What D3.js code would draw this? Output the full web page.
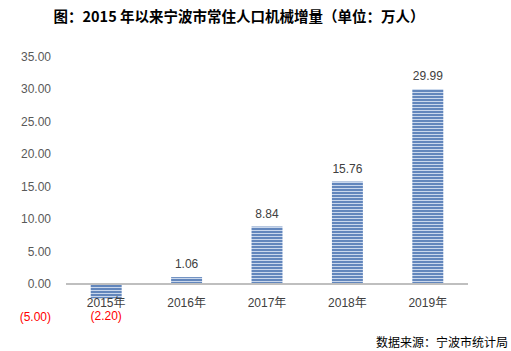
<!DOCTYPE html>
<html>
<head>
<meta charset="utf-8">
<script src="https://cdn.jsdelivr.net/npm/d3@7"></script>
<style>
  body { margin: 0; background: #fff; }
  text { font-family: Arial, "Liberation Sans", "Noto Sans CJK SC", sans-serif; }
</style>
</head>
<body>
<svg id="chart" width="511" height="351"></svg>
<script>
// data
var years = ["2015年", "2016年", "2017年", "2018年", "2019年"]
  , values = [-2.20, 1.06, 8.84, 15.76, 29.99]
  , ticks = [-5, 0, 5, 10, 15, 20, 25, 30, 35];

var svg = d3.select("#chart")
  , x0 = 66, x1 = 468;

var x = d3.scaleBand()
  .domain(years)
  .range([x0, x1])
  .paddingInner(0.615)
  .paddingOuter(0.3075);

var y = d3.scaleLinear()
  .domain([-5, 35])
  .range([316.5, 56.5]);

var fmt = function(v){
  var s = Math.abs(v).toFixed(2);
  return v < 0 ? "(" + s + ")" : s;
};

// striped fill for the bars
var pat = svg.append("defs").append("pattern")
  .attr("id", "stripes")
  .attr("patternUnits", "userSpaceOnUse")
  .attr("width", 4).attr("height", 3);
pat.append("rect").attr("width", 4).attr("height", 3).attr("fill", "#c9d7ec");
pat.append("rect").attr("width", 4).attr("height", 2).attr("fill", "#6286bc");

// title
svg.append("text")
  .attr("x", 239).attr("y", 22)
  .attr("text-anchor", "middle")
  .style("font-family", "'Noto Sans CJK SC', sans-serif")
  .style("font-size", "14.5px").style("font-weight", "bold")
  .attr("fill", "#000")
  .text("图：2015 年以来宁波市常住人口机械增量（单位：万人）");

// y tick labels
svg.selectAll(".ytick")
  .data(ticks)
 .enter().append("text")
  .attr("class", "ytick")
  .attr("x", 51)
  .attr("y", d => y(d))
  .attr("dy", "0.35em")
  .attr("text-anchor", "end")
  .style("font-size", "12px")
  .attr("fill", d => d < 0 ? "#ff0000" : "#595959")
  .text(fmt);

// bars
svg.selectAll(".bar")
  .data(values)
 .enter().append("rect")
  .attr("class", "bar")
  .attr("x", (d, i) => x(years[i]))
  .attr("width", x.bandwidth())
  .attr("y", d => y(Math.max(0, d)))
  .attr("height", d => Math.abs(y(d) - y(0)))
  .attr("fill", "url(#stripes)");

// zero line
svg.append("line")
  .attr("x1", x0).attr("x2", x1)
  .attr("y1", y(0)).attr("y2", y(0))
  .attr("stroke", "#bfbfbf").attr("stroke-width", 2);

// category labels
svg.selectAll(".xlab")
  .data(years)
 .enter().append("text")
  .attr("class", "xlab")
  .attr("x", d => x(d) + x.bandwidth() / 2)
  .attr("y", 307)
  .attr("text-anchor", "middle")
  .style("font-size", "12px")
  .attr("fill", "#404040")
  .text(d => d);

// value labels (negative one nudged just below the category label)
svg.selectAll(".vlab")
  .data(values)
 .enter().append("text")
  .attr("class", "vlab")
  .attr("x", (d, i) => x(years[i]) + x.bandwidth() / 2)
  .attr("y", d => d < 0 ? 320 : y(d) - 9)
  .attr("text-anchor", "middle")
  .style("font-size", "12px")
  .attr("fill", d => d < 0 ? "#ff0000" : "#404040")
  .text(fmt);

// source
svg.append("text")
  .attr("x", 508).attr("y", 347)
  .attr("text-anchor", "end")
  .style("font-family", "'Noto Sans CJK SC', sans-serif")
  .style("font-size", "12px")
  .attr("fill", "#000")
  .text("数据来源：宁波市统计局");
</script>
</body>
</html>
